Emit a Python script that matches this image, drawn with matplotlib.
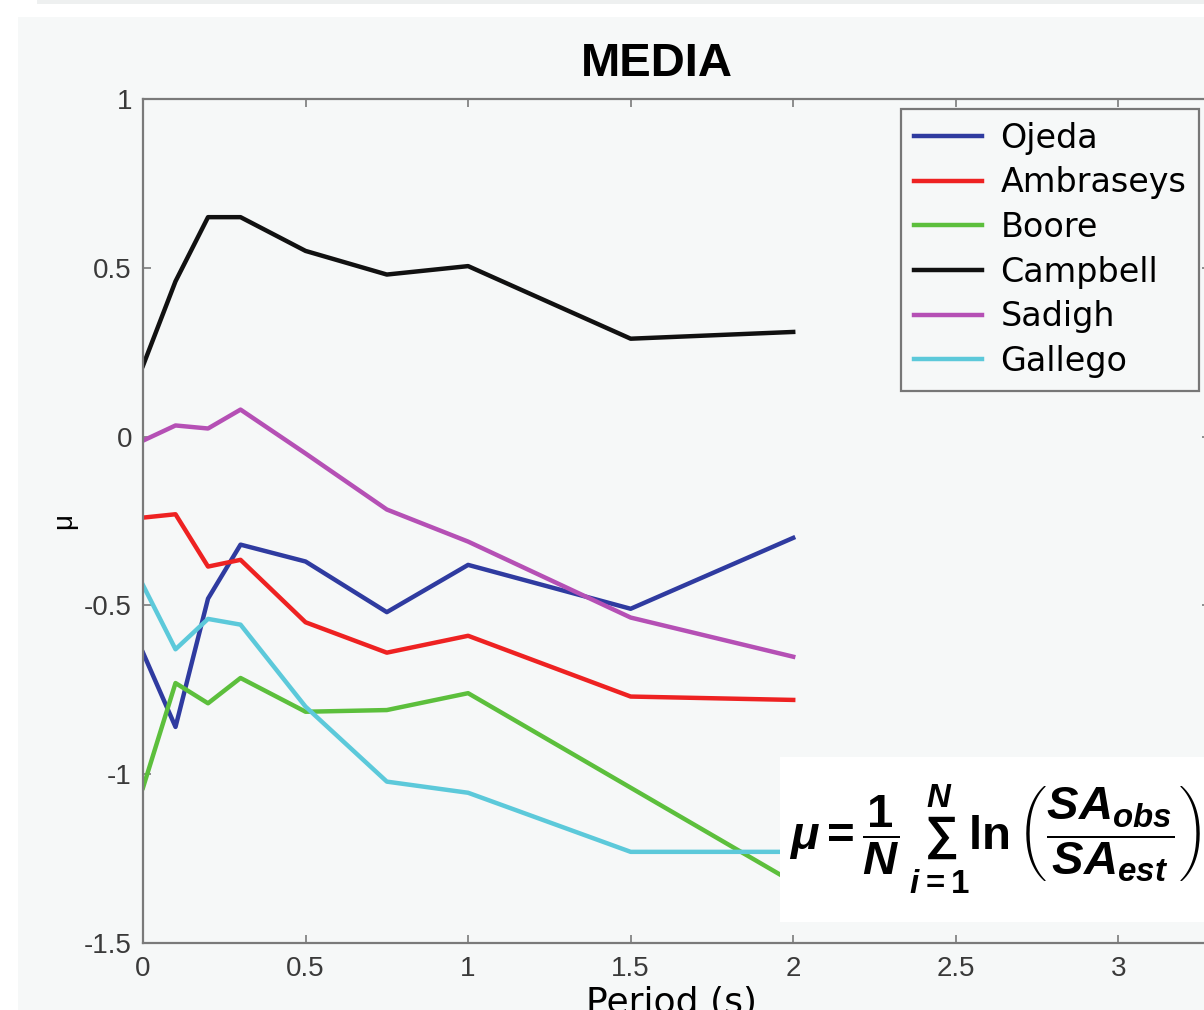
import matplotlib
matplotlib.use("Agg")
import matplotlib.pyplot as plt
from matplotlib.patches import Rectangle

# periods (s) and mean residuals per attenuation model
period = [0, 0.1, 0.2, 0.3, 0.5, 0.75, 1.0, 1.5, 2.0]
ojeda = [-0.64, -0.86, -0.48, -0.32, -0.37, -0.52, -0.38, -0.51, -0.30]
ambraseys = [-0.24, -0.23, -0.385, -0.365, -0.55, -0.64, -0.59, -0.77, -0.78]
boore = [-1.04, -0.73, -0.79, -0.715, -0.815, -0.81, -0.76, -1.04, -1.32]
campbell = [0.21, 0.46, 0.65, 0.65, 0.55, 0.48, 0.505, 0.29, 0.31]
sadigh = [-0.012, 0.033, 0.024, 0.08, -0.05, -0.216, -0.311, -0.536, -0.652]
gallego = [-0.44, -0.63, -0.54, -0.557, -0.80, -1.022, -1.055, -1.23, -1.23]

names = ["Ojeda", "Ambraseys", "Boore", "Campbell", "Sadigh", "Gallego"]
colors = ["#2f3ba0", "#ee2222", "#5cbf3c", "#111111", "#b550b5", "#5cc9da"]

xticks = [0, 0.5, 1, 1.5, 2, 2.5, 3]
yticks = [-1.5, -1, -0.5, 0, 0.5, 1]
ytickLabels = ["-1.5", "-1", "-0.5", "0", "0.5", "1"]

W, H = 1204, 1010
BG = "#f6f8f8"


def fx(px):
    return px / W


def fy(py):
    return 1 - py / H


def main():
    plt.rcParams["mathtext.fontset"] = "custom"
    plt.rcParams["mathtext.rm"] = "Liberation Sans:bold"
    plt.rcParams["mathtext.it"] = "Liberation Sans:italic:bold"
    plt.rcParams["mathtext.bf"] = "Liberation Sans:bold"

    fig = plt.figure(figsize=(W / 100, H / 100), dpi=100, facecolor="white")
    fig.patches.append(Rectangle((fx(18), 0), 1, fy(17), transform=fig.transFigure,
                                 facecolor=BG, edgecolor="none", zorder=-10))
    fig.patches.append(Rectangle((fx(37), fy(4)), 1, 1, transform=fig.transFigure,
                                 facecolor="#eef0f0", edgecolor="none", zorder=-10))

    ax = fig.add_axes([fx(143), fy(943), (1210 - 143) / W, (943 - 99) / H])
    ax.set_facecolor(BG)

    series = [ojeda, ambraseys, boore, campbell, sadigh, gallego]
    for vals, name, c in zip(series, names, colors):
        ax.plot(period, vals, color=c, linewidth=3.2, label=name)

    ax.set_xlim(0, 3.282)
    ax.set_ylim(-1.5, 1)
    ax.set_xticks(xticks)
    ax.set_xticklabels([("%g" % t) for t in xticks])
    ax.set_yticks(yticks)
    ax.set_yticklabels(ytickLabels)
    for s in ax.spines.values():
        s.set_color("#7a7a7a")
        s.set_linewidth(1.6)
    ax.tick_params(direction="in", length=6, width=1.2, color="#7a7a7a",
                   top=True, right=True, labelsize=20, labelcolor="#3a3a3a")
    ax.tick_params(axis="y", pad=8)
    ax.tick_params(axis="x", pad=9)
    for lbl in ax.get_xticklabels() + ax.get_yticklabels():
        lbl.set_family("Liberation Sans")

    ax.set_title("MEDIA", fontsize=34, fontweight="bold", family="Liberation Sans",
                 x=(657 - 143) / 1067, y=(943 - 76) / 844, pad=0)
    ax.set_xlabel("Period (s)", fontsize=26, family="DejaVu Sans")
    ax.xaxis.set_label_coords((672 - 143) / 1067, (943 - 986) / 844)
    ax.set_ylabel("\u03bc", fontsize=20, family="Liberation Sans")
    ax.yaxis.set_label_coords((77 - 143) / 1067, 0.5)

    leg = ax.legend(loc="upper left", bbox_to_anchor=(fx(901), fy(109)),
                    bbox_transform=fig.transFigure, borderaxespad=0,
                    prop={"family": "DejaVu Sans", "size": 24},
                    handlelength=2.05, handletextpad=0.55, labelspacing=0.35,
                    borderpad=0.38, fancybox=False, framealpha=1)
    leg.get_frame().set_edgecolor("#777777")
    leg.get_frame().set_linewidth(1.6)
    leg.get_frame().set_facecolor(BG)

    # formula box in the lower right corner
    fig.patches.append(Rectangle((fx(780), fy(922)), 1, (922 - 757) / H,
                                 transform=fig.transFigure, facecolor="white",
                                 edgecolor="none", zorder=5))
    formula = (r"$\mu = \dfrac{1}{N}\,\sum_{i=1}^{N}\ln\left("
               r"\dfrac{SA_{obs}}{SA_{est}}\right)$")
    fig.text(fx(789), fy(840), formula, fontsize=34, va="center", ha="left", zorder=6)

    fig.savefig("out.png", dpi=100, facecolor=fig.get_facecolor())


if __name__ == "__main__":
    main()
